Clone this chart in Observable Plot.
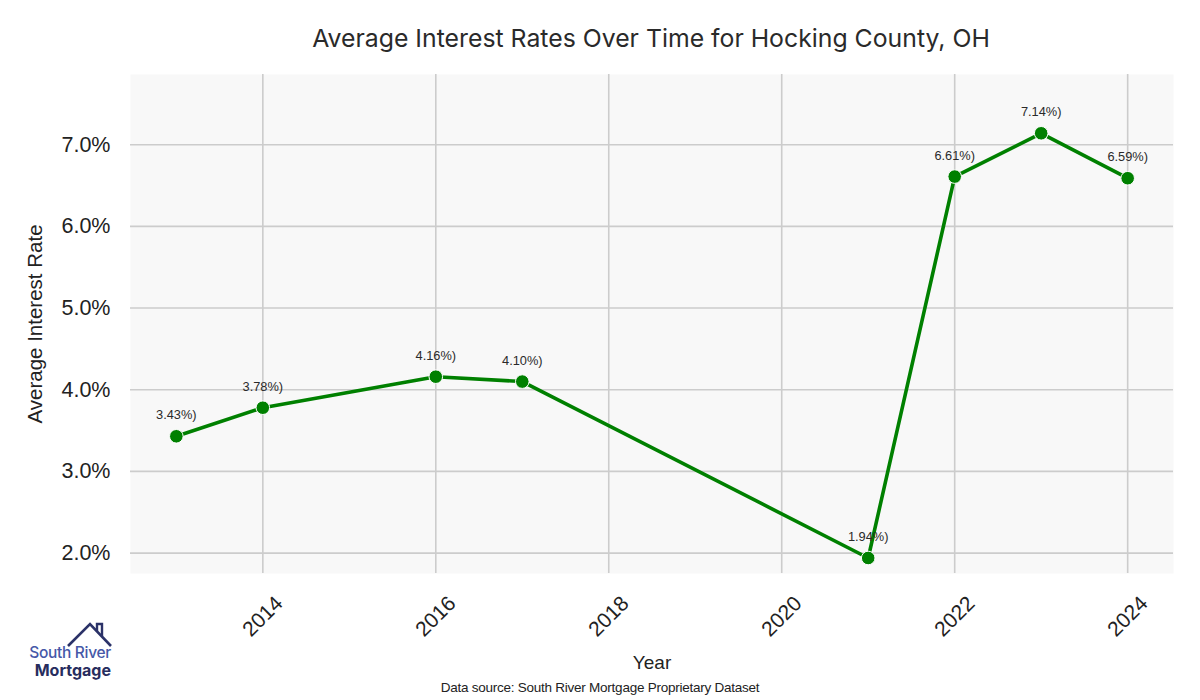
<!DOCTYPE html>
<html>
<head>
<meta charset="utf-8">
<script src="https://cdn.jsdelivr.net/npm/d3@7"></script>
<script src="https://cdn.jsdelivr.net/npm/@observablehq/plot@0.6"></script>
<style>
  html, body { margin: 0; padding: 0; background: #fff; }
  #wrap { position: relative; width: 1200px; height: 700px; overflow: hidden; }
  #title { position: absolute; left: 0; top: 23px; width: 1302px; text-align: center;
    font-family: Inter, "Noto Sans", sans-serif; font-size: 24.8px; color: #2a2a2a; }
  #caption { position: absolute; left: 0; top: 680px; width: 1200px; text-align: center;
    font-family: "Liberation Sans", Arial, sans-serif; font-size: 13.5px; letter-spacing: -0.25px; color: #222; }
  #chart { position: absolute; left: 0; top: 0; }
  #logo { position: absolute; left: 0; top: 600px; }
</style>
</head>
<body>
<div id="wrap">
  <div id="chart"></div>
  <div id="title">Average Interest Rates Over Time for Hocking County, OH</div>
  <div id="caption">Data source: South River Mortgage Proprietary Dataset</div>
  <svg id="logo" width="130" height="90">
    <polyline points="68,46 90,24 111,46" fill="none" stroke="#2b3268" stroke-width="2.6"/>
    <polyline points="97,31 97,24 102,24 102,36" fill="none" stroke="#2b3268" stroke-width="2.4"/>
    <text x="111" y="58" text-anchor="end" font-family="Inter, 'Noto Sans', sans-serif" font-size="15.5" fill="#4658a8" font-weight="500" letter-spacing="-0.3">South River</text>
    <text x="111" y="76" text-anchor="end" font-family="Inter, 'Noto Sans', sans-serif" font-size="16" fill="#272d5e" font-weight="700">Mortgage</text>
  </svg>
</div>
<script>
const years = [2013, 2014, 2016, 2017, 2021, 2022, 2023, 2024];
const rates = [3.43, 3.78, 4.16, 4.10, 1.94, 6.61, 7.14, 6.59];
const xTicks = [2014, 2016, 2018, 2020, 2022, 2024];
const yTicks = [2, 3, 4, 5, 6, 7];

const data = years.map((y, i) => ({year: y, rate: rates[i]}));

const font = "'Liberation Sans', Arial, sans-serif";

const chart = Plot.plot({
  width: 1200,
  height: 700,
  marginTop: 74,
  marginBottom: 127,
  marginLeft: 130,
  marginRight: 27,
  style: {fontFamily: font, background: "transparent", color: "#222"},
  x: {domain: [2012.47, 2024.53], axis: null},
  y: {domain: [1.75, 7.86], axis: null},
  marks: [
    Plot.frame({fill: "#f8f8f8", stroke: null}),
    Plot.gridX(xTicks, {stroke: "#cccccc", strokeOpacity: 1, strokeWidth: 1.6}),
    Plot.gridY(yTicks, {stroke: "#cccccc", strokeOpacity: 1, strokeWidth: 1.6}),
    Plot.line(data, {x: "year", y: "rate", stroke: "#008000", strokeWidth: 3.6}),
    Plot.dot(data, {x: "year", y: "rate", r: 6.8, fill: "#008000", stroke: "white", strokeWidth: 1}),
    Plot.text(data, {x: "year", y: "rate", text: d => d.rate.toFixed(2) + "%)", dy: -21, fontSize: 12.8, fill: "#2a2a2a"}),
    Plot.axisY(yTicks, {tickSize: 0, tickPadding: 20, fontSize: 21.5, fill: "#222", tickFormat: d => d.toFixed(1) + "%", label: null}),
    Plot.text(xTicks, {x: d => d, frameAnchor: "bottom", rotate: -45, dy: 43, fontSize: 21, fill: "#222", textAnchor: "middle", lineAnchor: "middle", text: d => String(d)}),
    Plot.text(["Year"], {frameAnchor: "bottom", dy: 89, fontSize: 19, fill: "#222", lineAnchor: "middle"}),
    Plot.text(["Average Interest Rate"], {frameAnchor: "left", rotate: -90, dx: -95, fontSize: 20.5, fill: "#222", textAnchor: "middle", lineAnchor: "middle"})
  ]
});
document.getElementById("chart").appendChild(chart);
</script>
</body>
</html>
